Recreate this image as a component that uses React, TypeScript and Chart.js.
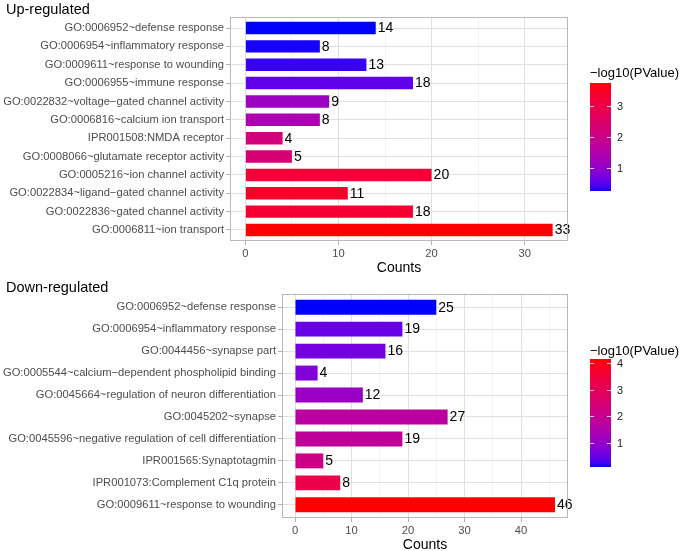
import React, { useEffect, useRef } from "react";
import { Chart, registerables } from "chart.js";

Chart.register(...registerables);
Chart.defaults.font.family = "'Liberation Sans', Arial, Helvetica, sans-serif";

// ---------------- data ----------------
const upTerms = [
  "GO:0006952~defense response",
  "GO:0006954~inflammatory response",
  "GO:0009611~response to wounding",
  "GO:0006955~immune response",
  "GO:0022832~voltage\u2212gated channel activity",
  "GO:0006816~calcium ion transport",
  "IPR001508:NMDA receptor",
  "GO:0008066~glutamate receptor activity",
  "GO:0005216~ion channel activity",
  "GO:0022834~ligand\u2212gated channel activity",
  "GO:0022836~gated channel activity",
  "GO:0006811~ion transport",
];
const upCounts = [14, 8, 13, 18, 9, 8, 4, 5, 20, 11, 18, 33];
const upLogP = [0.26, 0.28, 0.36, 0.56, 1.16, 1.44, 2.21, 2.35, 3.22, 3.39, 3.32, 3.74];
const upXMajor = [0, 10, 20, 30];
const upXMinor = [5, 15, 25];
const upLegendTicks = [1, 2, 3];

const downTerms = [
  "GO:0006952~defense response",
  "GO:0006954~inflammatory response",
  "GO:0044456~synapse part",
  "GO:0005544~calcium\u2212dependent phospholipid binding",
  "GO:0045664~regulation of neuron differentiation",
  "GO:0045202~synapse",
  "GO:0045596~negative regulation of cell differentiation",
  "IPR001565:Synaptotagmin",
  "IPR001073:Complement C1q protein",
  "GO:0009611~response to wounding",
];
const downCounts = [25, 19, 16, 4, 12, 27, 19, 5, 8, 46];
const downLogP = [0.11, 0.51, 0.64, 0.76, 1.12, 1.73, 1.85, 2.21, 3.26, 4.15];
const downXMajor = [0, 10, 20, 30, 40];
const downXMinor = [5, 15, 25, 35, 45];
const downLegendTicks = [1, 2, 3, 4];

const xTitle = "Counts";
const legendTitle = "\u2212log10(PValue)";

// ---------------- colour (Lab interpolation blue -> red) ----------------
const LOW = [0, 0, 255];
const HIGH = [255, 0, 0];
const toLin = (c: number) => {
  c /= 255;
  return c <= 0.04045 ? c / 12.92 : Math.pow((c + 0.055) / 1.055, 2.4);
};
const toSrgb = (c: number) => {
  c = c <= 0.0031308 ? 12.92 * c : 1.055 * Math.pow(Math.max(c, 0), 1 / 2.4) - 0.055;
  return Math.round(Math.max(0, Math.min(1, c)) * 255);
};
function rgb2lab(rgb: number[]) {
  const [r, g, b] = rgb.map(toLin);
  const X = (0.4124564 * r + 0.3575761 * g + 0.1804375 * b) / 0.95047;
  const Y = 0.2126729 * r + 0.7151522 * g + 0.072175 * b;
  const Z = (0.0193339 * r + 0.119192 * g + 0.9503041 * b) / 1.08883;
  const f = (t: number) => (t > 0.008856 ? Math.cbrt(t) : 7.787 * t + 16 / 116);
  const fx = f(X), fy = f(Y), fz = f(Z);
  return [116 * fy - 16, 500 * (fx - fy), 200 * (fy - fz)];
}
function lab2rgb(lab: number[]) {
  const [L, a, b] = lab;
  const fy = (L + 16) / 116, fx = fy + a / 500, fz = fy - b / 200;
  const inv = (t: number) => (t * t * t > 0.008856 ? t * t * t : (t - 16 / 116) / 7.787);
  const X = inv(fx) * 0.95047, Y = inv(fy), Z = inv(fz) * 1.08883;
  const r = 3.2404542 * X - 1.5371385 * Y - 0.4985314 * Z;
  const g = -0.969266 * X + 1.8760108 * Y + 0.041556 * Z;
  const bb = 0.0556434 * X - 0.2040259 * Y + 1.0572252 * Z;
  return [toSrgb(r), toSrgb(g), toSrgb(bb)];
}
const LAB_LOW = rgb2lab(LOW);
const LAB_HIGH = rgb2lab(HIGH);
function gradColor(t: number) {
  t = Math.max(0, Math.min(1, t));
  const lab = LAB_LOW.map((v, i) => v + (LAB_HIGH[i] - v) * t);
  const [r, g, b] = lab2rgb(lab);
  return `rgb(${r},${g},${b})`;
}

// ---------------- layout ----------------
type Layout = {
  height: number;
  left: number;
  right: number;
  top: number;
  bottom: number;
  titleBaseline: number;
  legendTitleY: number;
  legendTop: number;
  legendHeight: number;
};
const W = 685;
const LEG_X = 590;
const LEG_W = 21;

const upLayout: Layout = {
  height: 275, left: 230, right: 568, top: 17, bottom: 241,
  titleBaseline: 13.5, legendTitleY: 73, legendTop: 83, legendHeight: 108,
};
const downLayout: Layout = {
  height: 276, left: 282, right: 568, top: 19, bottom: 243,
  titleBaseline: 17, legendTitleY: 76, legendTop: 84, legendHeight: 108,
};

function makePanel(
  canvas: HTMLCanvasElement,
  title: string,
  terms: string[],
  counts: number[],
  logp: number[],
  majors: number[],
  minors: number[],
  legendTicks: number[],
  L: Layout
) {
  const lo = Math.min(...logp);
  const hi = Math.max(...logp);
  const colors = logp.map((v) => gradColor((v - lo) / (hi - lo)));
  const cmax = Math.max(...counts);
  const isMinor = (v: number) => minors.includes(v);
  const n = terms.length;
  const font = "'Liberation Sans', Arial, Helvetica, sans-serif";

  const decor = {
    id: "decor",
    afterDatasetsDraw(chart: any) {
      const ctx = chart.ctx as CanvasRenderingContext2D;
      const meta = chart.getDatasetMeta(0);
      ctx.save();
      ctx.fillStyle = "#000000";
      ctx.font = `14px ${font}`;
      ctx.textAlign = "left";
      ctx.textBaseline = "middle";
      meta.data.forEach((el: any, i: number) => {
        ctx.fillText(String(counts[i]), el.x + 2, el.y + 0.5);
      });
      ctx.restore();
    },
    afterDraw(chart: any) {
      const ctx = chart.ctx as CanvasRenderingContext2D;
      const a = chart.chartArea;
      ctx.save();
      // panel border
      ctx.strokeStyle = "#B8B8B8";
      ctx.lineWidth = 1;
      ctx.strokeRect(Math.round(a.left) + 0.5, Math.round(a.top) + 0.5, Math.round(a.right - a.left) - 1, Math.round(a.bottom - a.top) - 1);
      // title
      ctx.fillStyle = "#000000";
      ctx.font = `14.5px ${font}`;
      ctx.textAlign = "left";
      ctx.textBaseline = "alphabetic";
      ctx.fillText(title, 6, L.titleBaseline);
      // x axis title
      ctx.font = `14px ${font}`;
      ctx.textAlign = "center";
      ctx.textBaseline = "middle";
      ctx.fillText(xTitle, (a.left + a.right) / 2, a.bottom + 27);
      // legend title
      ctx.font = `13px ${font}`;
      ctx.textAlign = "left";
      ctx.fillText(legendTitle, LEG_X, L.legendTitleY);
      // colour bar
      const top = L.legendTop;
      const h = L.legendHeight;
      const grad = ctx.createLinearGradient(0, top + h, 0, top);
      for (let k = 0; k <= 40; k++) grad.addColorStop(k / 40, gradColor(k / 40));
      ctx.fillStyle = grad;
      ctx.fillRect(LEG_X, top, LEG_W, h);
      // legend ticks + labels
      ctx.font = `11px ${font}`;
      ctx.textBaseline = "middle";
      legendTicks.forEach((v) => {
        const y = Math.round(top + ((hi - v) / (hi - lo)) * h) + 0.5;
        ctx.strokeStyle = "rgba(255,255,255,0.85)";
        ctx.lineWidth = 1;
        ctx.beginPath();
        ctx.moveTo(LEG_X, y);
        ctx.lineTo(LEG_X + 4, y);
        ctx.moveTo(LEG_X + LEG_W - 4, y);
        ctx.lineTo(LEG_X + LEG_W, y);
        ctx.stroke();
        ctx.fillStyle = "#1A1A1A";
        ctx.fillText(String(v), 617, y);
      });
      ctx.restore();
    },
  };

  return new Chart(canvas, {
    type: "bar",
    data: {
      datasets: [
        {
          data: counts.map((c, i) => ({ x: c, y: i + 1 })),
          backgroundColor: colors,
          borderWidth: 0,
          categoryPercentage: 1,
          barPercentage: 0.68,
        } as any,
      ],
    },
    options: {
      indexAxis: "y",
      animation: false,
      responsive: false,
      maintainAspectRatio: false,
      layout: { padding: { top: L.top, right: W - L.right, left: 0, bottom: 0 } },
      plugins: { legend: { display: false }, tooltip: { enabled: false }, title: { display: false } },
      scales: {
        x: {
          type: "linear",
          position: "bottom",
          offset: false,
          min: -0.05 * cmax,
          max: 1.05 * cmax,
          afterBuildTicks: (s: any) => {
            s.ticks = [...majors, ...minors].sort((p, q) => p - q).map((v) => ({ value: v }));
          },
          afterFit: (s: any) => {
            s.height = L.height - L.bottom;
          },
          ticks: {
            autoSkip: false,
            maxRotation: 0,
            padding: 2,
            color: "#4D4D4D",
            font: { size: 11.2 },
            callback: (v: any) => (isMinor(Number(v)) ? "" : String(v)),
          },
          grid: {
            offset: false,
            color: (c: any) => (isMinor(c.tick?.value) ? "#EEEEEE" : "#E0E0E0"),
            lineWidth: (c: any) => (isMinor(c.tick?.value) ? 0.7 : 1),
            tickColor: (c: any) => (isMinor(c.tick?.value) ? "rgba(0,0,0,0)" : "#B3B3B3"),
            tickLength: 4,
          },
          border: { display: false },
        },
        y: {
          type: "linear",
          reverse: true,
          offset: false,
          min: 0.4,
          max: n + 0.6,
          afterBuildTicks: (s: any) => {
            s.ticks = terms.map((_, i) => ({ value: i + 1 }));
          },
          afterFit: (s: any) => {
            s.width = L.left;
          },
          ticks: {
            autoSkip: false,
            padding: 2,
            color: "#4D4D4D",
            font: { size: 11.2 },
            callback: (v: any) => terms[Number(v) - 1] ?? "",
          },
          grid: { offset: false, color: "#E0E0E0", lineWidth: 1, tickColor: "#B3B3B3", tickLength: 4 },
          border: { display: false },
        },
      },
    } as any,
    plugins: [decor],
  });
}

export default function App() {
  const upRef = useRef<HTMLCanvasElement>(null);
  const downRef = useRef<HTMLCanvasElement>(null);

  useEffect(() => {
    const c1 = makePanel(upRef.current!, "Up-regulated", upTerms, upCounts, upLogP, upXMajor, upXMinor, upLegendTicks, upLayout);
    const c2 = makePanel(downRef.current!, "Down-regulated", downTerms, downCounts, downLogP, downXMajor, downXMinor, downLegendTicks, downLayout);
    return () => {
      c1.destroy();
      c2.destroy();
    };
  }, []);

  return (
    <div style={{ position: "absolute", left: 0, top: 0, width: W, height: 551, background: "#FFFFFF" }}>
      <canvas ref={upRef} width={W} height={upLayout.height} style={{ display: "block", width: W, height: upLayout.height }} />
      <canvas ref={downRef} width={W} height={downLayout.height} style={{ display: "block", width: W, height: downLayout.height }} />
    </div>
  );
}
